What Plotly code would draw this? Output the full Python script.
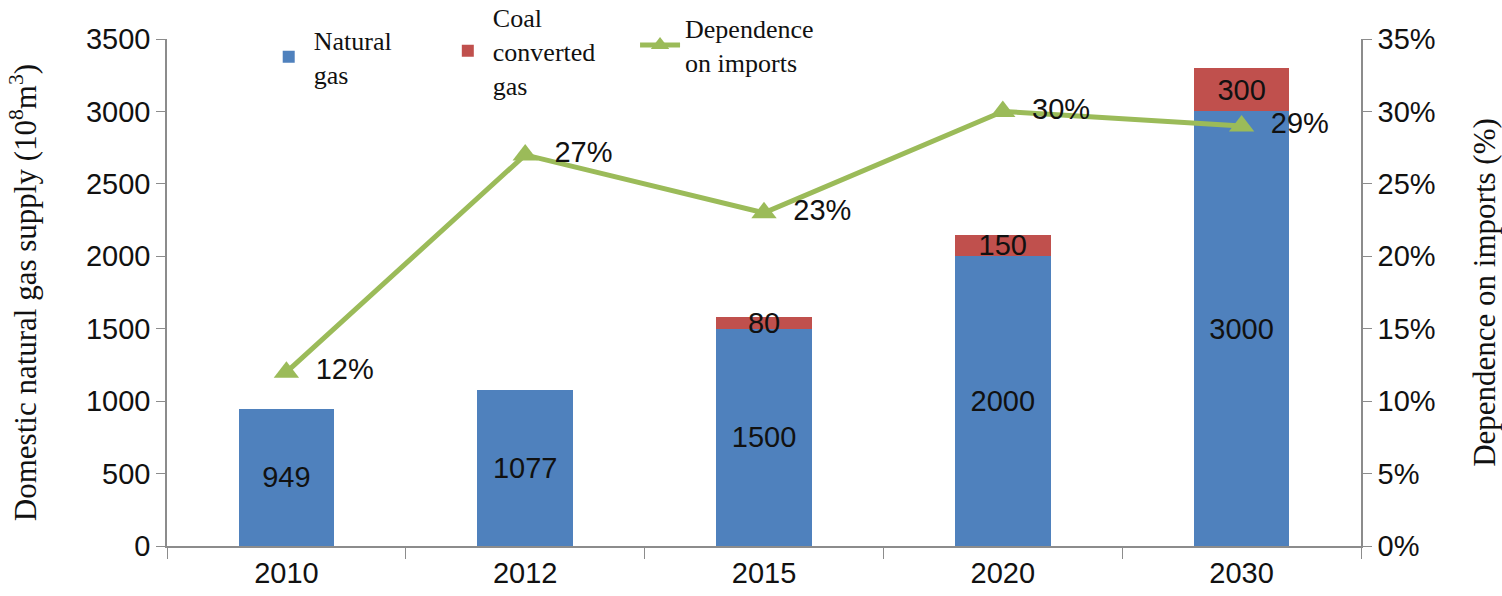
import plotly.graph_objects as go

years = ["2010", "2012", "2015", "2020", "2030"]
natural_gas = [949, 1077, 1500, 2000, 3000]
coal_gas = [0, 0, 80, 150, 300]
coal_labels = ["", "", "80", "150", "300"]
import_dependence = [0.12, 0.27, 0.23, 0.30, 0.29]
dependence_labels = ["12%", "27%", "23%", "30%", "29%"]

BLUE = "#4F81BD"
RED = "#C0504D"
GREEN = "#9BBB59"
AXIS = "#8c8c8c"
SANS = "Liberation Sans, Arial, sans-serif"
SERIF = "Liberation Serif, Times New Roman, serif"

fig = go.Figure()

fig.add_trace(go.Bar(
    x=years, y=natural_gas, name="Natural<br>gas", legend="legend",
    marker=dict(color=BLUE, line=dict(width=0)),
    text=[str(v) for v in natural_gas], textposition="inside",
    insidetextanchor="middle", textangle=0,
    textfont=dict(family=SANS, size=29, color="#111"),
))
fig.add_trace(go.Bar(
    x=years, y=coal_gas, name="Coal<br>converted<br>gas", legend="legend2",
    marker=dict(color=RED, line=dict(width=0)),
    text=coal_labels, textposition="inside",
    insidetextanchor="middle", textangle=0,
    textfont=dict(family=SANS, size=29, color="#111"),
))
fig.add_trace(go.Scatter(
    x=years, y=import_dependence, name="Dependence<br>on imports", legend="legend3",
    yaxis="y2", mode="lines+markers+text",
    line=dict(color=GREEN, width=5),
    marker=dict(symbol="triangle-up", size=22, color=GREEN),
    text=dependence_labels, texttemplate="\u2002%{text}",
    textposition="middle right",
    textfont=dict(family=SANS, size=29, color="#111"),
))

legend_style = dict(
    orientation="h", xanchor="left", yanchor="middle",
    font=dict(family=SERIF, size=26, color="#111"),
    bgcolor="rgba(0,0,0,0)", valign="middle", itemwidth=40,
)

fig.update_layout(
    width=1502, height=596,
    margin=dict(l=167, r=141, t=39, b=50, autoexpand=False),
    paper_bgcolor="white", plot_bgcolor="white",
    barmode="stack", bargap=0.6,
    uniformtext=dict(minsize=29, mode="show"),
    showlegend=True,
    legend=dict(x=0.081, y=0.9645, **legend_style),
    legend2=dict(x=0.231, y=0.976, **legend_style),
    legend3=dict(x=0.392, y=0.988, **legend_style),
    xaxis=dict(
        type="category", showgrid=False, showline=True, linecolor=AXIS, linewidth=1.5,
        ticks="outside", tickson="boundaries", ticklen=11, tickcolor=AXIS,
        tickfont=dict(family=SANS, size=29, color="#111"),
    ),
    yaxis=dict(
        range=[0, 3500], dtick=500, showgrid=False, zeroline=False,
        showline=True, linecolor=AXIS, linewidth=1.5,
        ticks="outside", ticklen=9, tickcolor=AXIS,
        tickfont=dict(family=SANS, size=29, color="#111"),
        title=dict(text="Domestic natural gas supply (10<sup>8</sup>m<sup>3</sup>)",
                   font=dict(family=SERIF, size=31, color="#111"), standoff=40),
    ),
    yaxis2=dict(
        overlaying="y", side="right", range=[0, 0.35], dtick=0.05,
        tickformat=".0%", showgrid=False, zeroline=False,
        showline=True, linecolor=AXIS, linewidth=1.5,
        ticks="outside", ticklen=9, tickcolor=AXIS,
        tickfont=dict(family=SANS, size=29, color="#111"),
        title=dict(text="Dependence on imports (%)",
                   font=dict(family=SERIF, size=31, color="#111"), standoff=40),
    ),
)

fig.write_html("out.html")
